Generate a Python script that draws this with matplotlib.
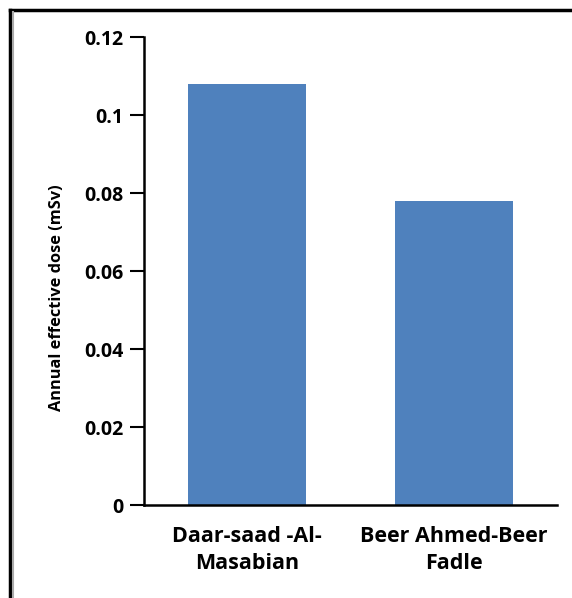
import matplotlib.pyplot as plt
from matplotlib.lines import Line2D

# data
sites = ["Daar-saad -Al-\nMasabian", "Beer Ahmed-Beer\nFadle"]
dose = [0.108, 0.078]
y_ticks = [0, 0.02, 0.04, 0.06, 0.08, 0.1, 0.12]
y_tick_labels = ["0", "0.02", "0.04", "0.06", "0.08", "0.1", "0.12"]

plt.rcParams['font.family'] = ['Open Sans', 'DejaVu Sans']
plt.rcParams['font.weight'] = 'bold'

fig = plt.figure(figsize=(5.72, 5.98), dpi=100)
ax = fig.add_axes([0.2517, 0.1555, 0.7221, 0.7826])

ax.bar(range(len(sites)), dose, width=0.57, color="#4F81BD")
ax.set_xlim(-0.5, 1.5)
ax.set_ylim(0, 0.12)

ax.set_yticks(y_ticks)
ax.set_yticklabels(y_tick_labels, fontsize=14, fontweight='bold')
ax.set_xticks(range(len(sites)))
ax.set_xticklabels(sites, fontsize=15.5, fontweight='bold', linespacing=1.4)
ax.tick_params(axis='x', length=0, pad=15)
ax.tick_params(axis='y', direction='out', length=10, width=1.5, pad=5)

ax.set_ylabel("Annual effective dose (mSv)", fontsize=11.8, fontweight='bold')
ax.yaxis.set_label_coords(-0.192, 0.443)

for s in ["top", "right"]:
    ax.spines[s].set_visible(False)
for s in ["left", "bottom"]:
    ax.spines[s].set_linewidth(1.8)

# outer frame of the picture (top and left edges)
fig.add_artist(Line2D([0.018, 1.0], [0.983, 0.983], color="black", lw=2.5, transform=fig.transFigure))
fig.add_artist(Line2D([0.018, 0.018], [0.0, 0.983], color="black", lw=2.5, transform=fig.transFigure))
fig.add_artist(Line2D([0.022, 0.022], [0.0, 0.98], color="#aaaaaa", lw=1.5, transform=fig.transFigure))

fig.savefig("out.png", dpi=100)
